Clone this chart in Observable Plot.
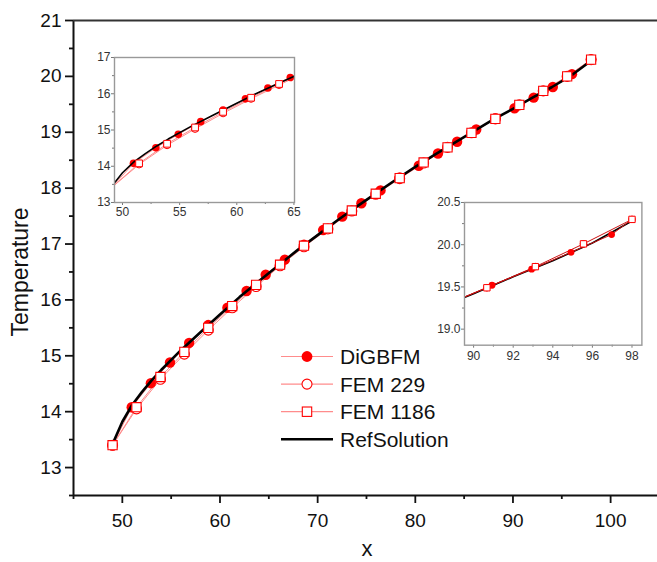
<!DOCTYPE html>
<html>
<head>
<meta charset="utf-8">
<script src="https://cdn.jsdelivr.net/npm/d3@7"></script>
<script src="https://cdn.jsdelivr.net/npm/@observablehq/plot@0.6"></script>
<style>
  html, body { margin: 0; padding: 0; background: #fff; }
  #wrap { position: relative; width: 657px; height: 562px; overflow: hidden; font-family: Arial, "Liberation Sans", sans-serif; }
  .inset { position: absolute; }
</style>
</head>
<body>
<div id="wrap"></div>
<script>
// ---------- data ----------
const seriesNames = ["DiGBFM", "FEM 229", "FEM 1186", "RefSolution"];
const xLabel = "x";
const yLabel = "Temperature";

// main axes
const xDomain = [45, 104.8];
const yDomain = [12.5, 21];
const xMajor = [50, 60, 70, 80, 90, 100];
const xMinor = [45, 55, 65, 75, 85, 95];
const yMajor = [13, 14, 15, 16, 17, 18, 19, 20, 21];
const yMinor = [12.5, 13.5, 14.5, 15.5, 16.5, 17.5, 18.5, 19.5, 20.5];

// DiGBFM
const diX = [49, 50.96, 52.92, 54.88, 56.84, 58.8, 60.76, 62.72, 64.68, 66.64, 68.6, 70.56, 72.52, 74.48, 76.44, 78.4, 80.36, 82.32, 84.28, 86.24, 88.2, 90.16, 92.12, 94.08, 96.04, 98];
const diY = [13.40, 14.08, 14.51, 14.88, 15.23, 15.55, 15.86, 16.16, 16.45, 16.72, 16.99, 17.25, 17.49, 17.73, 17.96, 18.19, 18.40, 18.62, 18.83, 19.05, 19.25, 19.43, 19.62, 19.81, 20.04, 20.30];
// FEM 229 and FEM 1186 (same sample positions)
const femX = [49, 51.45, 53.9, 56.35, 58.8, 61.25, 63.7, 66.15, 68.6, 71.05, 73.5, 75.95, 78.4, 80.85, 83.3, 85.75, 88.2, 90.65, 93.1, 95.55, 98];
const fem229Y = [13.40, 14.05, 14.58, 15.03, 15.46, 15.86, 16.24, 16.61, 16.95, 17.27, 17.59, 17.89, 18.17, 18.45, 18.73, 18.99, 19.24, 19.49, 19.74, 20.00, 20.30];
const fem1186Y = [13.40, 14.08, 14.62, 15.07, 15.50, 15.89, 16.27, 16.63, 16.97, 17.28, 17.60, 17.90, 18.18, 18.46, 18.73, 18.99, 19.24, 19.49, 19.74, 20.00, 20.30];
// RefSolution
const refX = [49, 50, 51, 52, 53, 54, 56, 58, 60, 62, 64, 66, 68, 70, 72, 74, 76, 78, 80, 82, 84, 86, 88, 90, 92, 94, 96, 98];
const refY = [13.42, 13.82, 14.12, 14.35, 14.56, 14.75, 15.10, 15.42, 15.74, 16.05, 16.34, 16.62, 16.90, 17.16, 17.42, 17.67, 17.91, 18.15, 18.38, 18.60, 18.81, 19.02, 19.23, 19.42, 19.62, 19.81, 20.02, 20.28];

// inset 1 (left) axes
const in1XDomain = [49.3, 65.05];
const in1YDomain = [13, 17];
const in1XMajor = [50, 55, 60, 65];
const in1XMinor = [52.5, 57.5, 62.5];
const in1YMajor = [13, 14, 15, 16, 17];
const in1YMinor = [13.5, 14.5, 15.5, 16.5];

// inset 2 (right) axes and its points as drawn there
const in2XDomain = [89.54, 98.5];
const in2YDomain = [18.81, 20.5];
const in2XMajor = [90, 92, 94, 96, 98];
const in2XMinor = [91, 93, 95, 97];
const in2YMajor = [19.0, 19.5, 20.0, 20.5];
const in2YMinor = [19.25, 19.75, 20.25];
const in2DiX = [88.93, 90.93, 92.93, 94.92, 96.97, 98];
const in2DiY = [19.32, 19.52, 19.71, 19.91, 20.12, 20.30];
const in2FemX = [88.2, 90.67, 93.12, 95.55, 98];
const in2FemY = [19.25, 19.49, 19.74, 20.01, 20.30];

// ---------- tables ----------
const pts = (xs, ys) => xs.map((x, i) => ({x, y: ys[i]}));
const di = pts(diX, diY);
const f229 = pts(femX, fem229Y);
const f1186 = pts(femX, fem1186Y);
const ref = pts(refX, refY);
const in2Di = pts(in2DiX, in2DiY);
const in2Fem = pts(in2FemX, in2FemY);

const RED = "#ff0000";
const PINK = "#ff8c8c";
const FONT = "Arial, 'Liberation Sans', sans-serif";

// ---------- main plot ----------
const main = Plot.plot({
  width: 657, height: 562,
  marginLeft: 73, marginRight: 0, marginTop: 20, marginBottom: 67,
  x: {domain: xDomain, label: null},
  y: {domain: yDomain, label: null},
  style: {fontFamily: FONT, background: "transparent", color: "#111", overflow: "visible"},
  marks: [
    Plot.line(di, {x: "x", y: "y", stroke: PINK, strokeWidth: 1}),
    Plot.line(f229, {x: "x", y: "y", stroke: PINK, strokeWidth: 1}),
    Plot.line(f1186, {x: "x", y: "y", stroke: PINK, strokeWidth: 1}),
    Plot.dot(di, {x: "x", y: "y", r: 5.2, fill: RED, stroke: "none"}),
    Plot.line(ref, {x: "x", y: "y", stroke: "#000", strokeWidth: 2.6}),
    Plot.dot(f229, {x: "x", y: "y", r: 5, fill: "white", stroke: RED, strokeWidth: 1.1}),
    Plot.dot(f1186, {x: "x", y: "y", symbol: "square", r: 5.2, fill: "white", stroke: RED, strokeWidth: 1.1}),
    Plot.axisX(xMajor, {tickSize: 8, tickPadding: 10, fontSize: 19, strokeWidth: 1.8, label: null, tickFormat: d => String(d)}),
    Plot.axisX(xMinor, {tickSize: 4, strokeWidth: 1.8, label: null, tickFormat: () => ""}),
    Plot.axisY(yMajor, {tickSize: 8, tickPadding: 4, fontSize: 19, strokeWidth: 1.8, label: null, tickFormat: d => String(d)}),
    Plot.axisY(yMinor, {tickSize: 4, strokeWidth: 1.8, label: null, tickFormat: () => ""}),
    Plot.ruleX([xDomain[0]], {stroke: "#111", strokeWidth: 2}),
    Plot.ruleY([yDomain[0]], {stroke: "#111", strokeWidth: 2}),
    Plot.ruleY([yDomain[1]], {stroke: "#333", strokeWidth: 2})
  ]
});
document.getElementById("wrap").appendChild(main);

// axis titles
const msv = d3.select(main);
msv.append("text")
  .attr("transform", "translate(20,272) rotate(-90)")
  .attr("text-anchor", "middle").attr("dy", "0.35em")
  .attr("font-size", 23).attr("font-family", FONT).attr("fill", "#111")
  .text(yLabel);
msv.append("text")
  .attr("x", 367).attr("y", 556)
  .attr("text-anchor", "middle")
  .attr("font-size", 22).attr("font-family", FONT).attr("fill", "#111")
  .text(xLabel);

// legend
const lg = msv.append("g").attr("text-anchor", "start");
const lgX0 = 281, lgX1 = 333, lgMk = 307, lgTx = 340, lgY0 = 356.5, lgDy = 27.6;
seriesNames.forEach((name, i) => {
  const y = lgY0 + i * lgDy;
  const isRef = i === 3;
  lg.append("line").attr("x1", lgX0).attr("x2", lgX1).attr("y1", y).attr("y2", y)
    .attr("stroke", isRef ? "#000" : PINK).attr("stroke-width", isRef ? 2.6 : 1.2);
  if (i === 0) lg.append("circle").attr("cx", lgMk).attr("cy", y).attr("r", 5.4).attr("fill", RED);
  if (i === 1) lg.append("circle").attr("cx", lgMk).attr("cy", y).attr("r", 5).attr("fill", "white").attr("stroke", RED).attr("stroke-width", 1.1);
  if (i === 2) lg.append("rect").attr("x", lgMk - 4.7).attr("y", y - 4.7).attr("width", 9.4).attr("height", 9.4).attr("fill", "white").attr("stroke", RED).attr("stroke-width", 1.1);
  lg.append("text").attr("x", lgTx).attr("y", y).attr("dy", "0.36em")
    .attr("text-anchor", "start")
    .attr("font-size", 21).attr("font-family", FONT).attr("fill", "#111").text(name);
});

// ---------- insets ----------
function makeInset(o) {
  const fw = o.frame[2] - o.frame[0], fh = o.frame[3] - o.frame[1];
  const p = Plot.plot({
    width: o.ml + fw + o.mr, height: o.mt + fh + o.mb,
    marginLeft: o.ml, marginRight: o.mr, marginTop: o.mt, marginBottom: o.mb,
    x: {domain: o.xd, label: null},
    y: {domain: o.yd, label: null},
    style: {fontFamily: FONT, background: "transparent", color: "#333", overflow: "visible"},
    marks: [
      Plot.frame({fill: "white", stroke: "none"}),
      ...o.marks,
      Plot.axisX(o.xt, {tickSize: 3, tickPadding: o.xpad, fontSize: 12, strokeWidth: 1, stroke: "#777", label: null, tickFormat: o.xf}),
      Plot.axisX(o.xm, {tickSize: 2, strokeWidth: 1, stroke: "#777", label: null, tickFormat: () => ""}),
      Plot.axisY(o.yt, {tickSize: 3, tickPadding: 1, fontSize: 12, strokeWidth: 1, stroke: "#777", label: null, tickFormat: o.yf}),
      Plot.axisY(o.ym, {tickSize: 2, strokeWidth: 1, stroke: "#777", label: null, tickFormat: () => ""}),
      Plot.frame({stroke: "#999", strokeWidth: 1.4})
    ]
  });
  const div = document.createElement("div");
  div.className = "inset";
  div.style.left = (o.frame[0] - o.ml) + "px";
  div.style.top = (o.frame[1] - o.mt) + "px";
  div.appendChild(p);
  document.getElementById("wrap").appendChild(div);
}

makeInset({
  frame: [114, 56.5, 294, 201.5], ml: 30, mr: 6, mt: 8, mb: 24, xpad: 2,
  xd: in1XDomain, yd: in1YDomain,
  xt: in1XMajor, xm: in1XMinor, yt: in1YMajor, ym: in1YMinor,
  xf: d => String(d), yf: d => String(d),
  marks: [
    Plot.line(di, {x: "x", y: "y", stroke: PINK, strokeWidth: 1, clip: true}),
    Plot.line(f229, {x: "x", y: "y", stroke: PINK, strokeWidth: 1, clip: true}),
    Plot.line(f1186, {x: "x", y: "y", stroke: PINK, strokeWidth: 1, clip: true}),
    Plot.dot(di, {x: "x", y: "y", r: 3.8, fill: RED, stroke: "none", clip: true}),
    Plot.line(ref, {x: "x", y: "y", stroke: "#000", strokeWidth: 1.6, clip: true}),
    Plot.dot(f229, {x: "x", y: "y", r: 3.5, fill: "white", stroke: RED, strokeWidth: 1, clip: true}),
    Plot.dot(f1186, {x: "x", y: "y", symbol: "square", r: 3.8, fill: "white", stroke: RED, strokeWidth: 1, clip: true})
  ]
});

makeInset({
  frame: [464.3, 202.3, 641.7, 345], ml: 38, mr: 6, mt: 8, mb: 22, xpad: 3,
  xd: in2XDomain, yd: in2YDomain,
  xt: in2XMajor, xm: in2XMinor, yt: in2YMajor, ym: in2YMinor,
  xf: d => String(d), yf: d3.format(".1f"),
  marks: [
    Plot.line(ref, {x: "x", y: "y", stroke: "#000", strokeWidth: 1.6, clip: true}),
    Plot.line(in2Fem, {x: "x", y: "y", stroke: "#cc1010", strokeWidth: 1, clip: true}),
    Plot.line(in2Di, {x: "x", y: "y", stroke: "#cc1010", strokeWidth: 1, clip: true}),
    Plot.dot(in2Di, {x: "x", y: "y", r: 3.4, fill: RED, stroke: "none", clip: true}),
    Plot.dot(in2Fem, {x: "x", y: "y", r: 3.3, fill: "white", stroke: RED, strokeWidth: 1, clip: true}),
    Plot.dot(in2Fem, {x: "x", y: "y", symbol: "square", r: 3.6, fill: "white", stroke: RED, strokeWidth: 1, clip: true})
  ]
});
</script>
</body>
</html>
